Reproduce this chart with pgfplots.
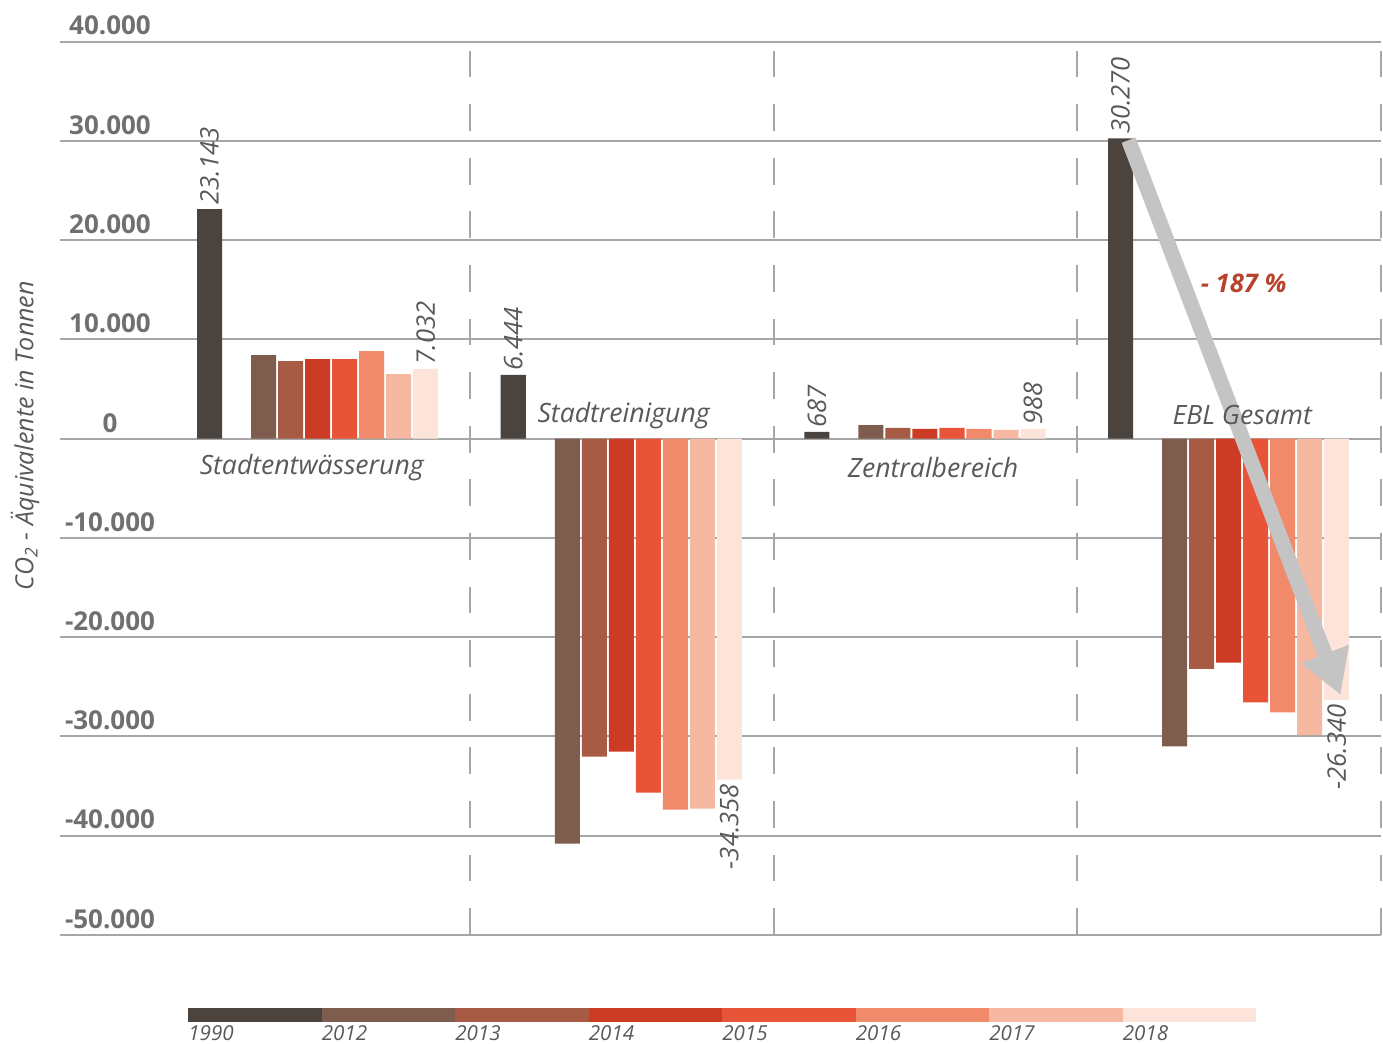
\documentclass[border=0pt]{standalone}
\usepackage{pgfplots}
\usepackage{pgfplotstable}
\pgfplotsset{compat=1.18}
\usetikzlibrary{arrows.meta}
\usepackage{fontspec}
\setmainfont{Open Sans}

\definecolor{c1990}{HTML}{4B433D}
\definecolor{c2012}{HTML}{7E5C4E}
\definecolor{c2013}{HTML}{A85B44}
\definecolor{c2014}{HTML}{CC3B24}
\definecolor{c2015}{HTML}{E85438}
\definecolor{c2016}{HTML}{F08A6A}
\definecolor{c2017}{HTML}{F6B8A0}
\definecolor{c2018}{HTML}{FDE4DA}
\definecolor{gridgray}{HTML}{A6A6A6}
\definecolor{textgray}{HTML}{595959}
\definecolor{tickgray}{HTML}{707070}
\definecolor{arrowgray}{HTML}{C4C4C4}
\definecolor{pctred}{HTML}{B8432D}

\newcommand\tickfont{\fontsize{13}{15}\selectfont\bfseries}
\newcommand\valfont{\fontsize{12.8}{15}\selectfont\itshape}
\newcommand\catfont{\fontsize{13.3}{16}\selectfont\itshape}
\newcommand\legfont{\fontsize{10.3}{12}\selectfont\itshape}
\newcommand\yr[1]{\makebox[66.75pt][l]{#1}}

% groups: 0 Stadtentwaesserung, 1 Stadtreinigung, 2 Zentralbereich, 3 EBL Gesamt
\pgfplotstableread{
grp y1990 y2012 y2013 y2014 y2015 y2016 y2017 y2018
0 23143 8430 7820 8030 8030 8830 6520 7032
1 6444 -40790 -32020 -31520 -35650 -37360 -37260 -34358
2 687 1380 1080 980 1080 980 880 988
3 30270 -31000 -23200 -22550 -26570 -27570 -29870 -26340
}\emissions

\pgfplotsset{
  mybar/.style={ybar, bar width=0.0824, bar shift=0pt, draw=none,
    legend image code/.code={\fill[##1, overlay] (0pt,5.5pt) rectangle (66.75pt,12.5pt);}},
  labelled/.style={nodes near coords={\pgfmathprintnumber[fixed,1000 sep={.},assume math mode=true]{\pgfplotspointmeta}},
    nodes near coords align=horizontal,
    every node near coord/.append style={rotate=90, font=\valfont, text=textgray, inner xsep=2pt}},
}

\begin{document}
\begin{tikzpicture}
\path[use as bounding box] (-30pt,-54.5pt) rectangle (661.5pt,467.5pt);
\begin{axis}[
  scale only axis, width=660.5pt, height=446.65pt,
  xmin=-0.85, xmax=3.5, ymin=-50000, ymax=40000,
  clip=false,
  axis line style={draw=none}, tick style={draw=none},
  xtick={0.5,1.5,2.5,3.5}, xticklabels={},
  ytick={-50000,-40000,...,40000},
  xmajorgrids, ymajorgrids,
  x grid style={gridgray, line width=1pt, dash pattern=on 13.4pt off 13.4pt},
  y grid style={gridgray, line width=1pt},
  scaled y ticks=false,
  /pgf/number format/assume math mode=true,
  yticklabel style={font=\tickfont, text=tickgray, anchor=south, xshift=25pt, yshift=3pt, inner sep=0pt,
    /pgf/number format/fixed, /pgf/number format/1000 sep={.}},
  ylabel={\itshape CO\textsubscript{2} - Äquivalente in Tonnen},
  ylabel style={at={(axis description cs:-0.0265,0.559)}, anchor=center, font=\fontsize{12.5}{14}\selectfont, text=textgray},
  legend columns=8,
  legend cell align=left,
  legend style={at={(axis description cs:0.0969,-0.1095)}, anchor=west, draw=none, fill=none,
    inner sep=0pt, column sep=0pt, font=\legfont, text=textgray,
    nodes={inner sep=0pt, text depth=0pt}},
]
\addplot[mybar, fill=c1990, labelled] table[x expr=\thisrow{grp}-0.3575, y=y1990] {\emissions};
\addplot[mybar, fill=c2012] table[x expr=\thisrow{grp}-0.1796, y=y2012] {\emissions};
\addplot[mybar, fill=c2013] table[x expr=\thisrow{grp}-0.0906, y=y2013] {\emissions};
\addplot[mybar, fill=c2014] table[x expr=\thisrow{grp}-0.0017, y=y2014] {\emissions};
\addplot[mybar, fill=c2015] table[x expr=\thisrow{grp}+0.0873, y=y2015] {\emissions};
\addplot[mybar, fill=c2016] table[x expr=\thisrow{grp}+0.1762, y=y2016] {\emissions};
\addplot[mybar, fill=c2017] table[x expr=\thisrow{grp}+0.2652, y=y2017] {\emissions};
\addplot[mybar, fill=c2018, labelled] table[x expr=\thisrow{grp}+0.3542, y=y2018] {\emissions};
\legend{\yr{1990},\yr{2012},\yr{2013},\yr{2014},\yr{2015},\yr{2016},\yr{2017},\yr{2018}}

\draw[arrowgray, line width=7.5pt, -{Triangle[length=22pt,width=24pt]}]
  (axis cs:2.669,30080) -- (axis cs:3.367,-25830);
\node[font=\fontsize{12.8}{15}\selectfont\bfseries\itshape, text=pctred] at (axis cs:3.048,15680) {- 187 \%};

\node[font=\catfont, text=textgray] at (axis cs:-0.021,-2950) {Stadtentwässerung};
\node[font=\catfont, text=textgray] at (axis cs:1.006,2340) {Stadtreinigung};
\node[font=\catfont, text=textgray] at (axis cs:2.025,-2950) {Zentralbereich};
\node[font=\catfont, text=textgray] at (axis cs:3.043,2340) {EBL Gesamt};
\end{axis}
\end{tikzpicture}
\end{document}
